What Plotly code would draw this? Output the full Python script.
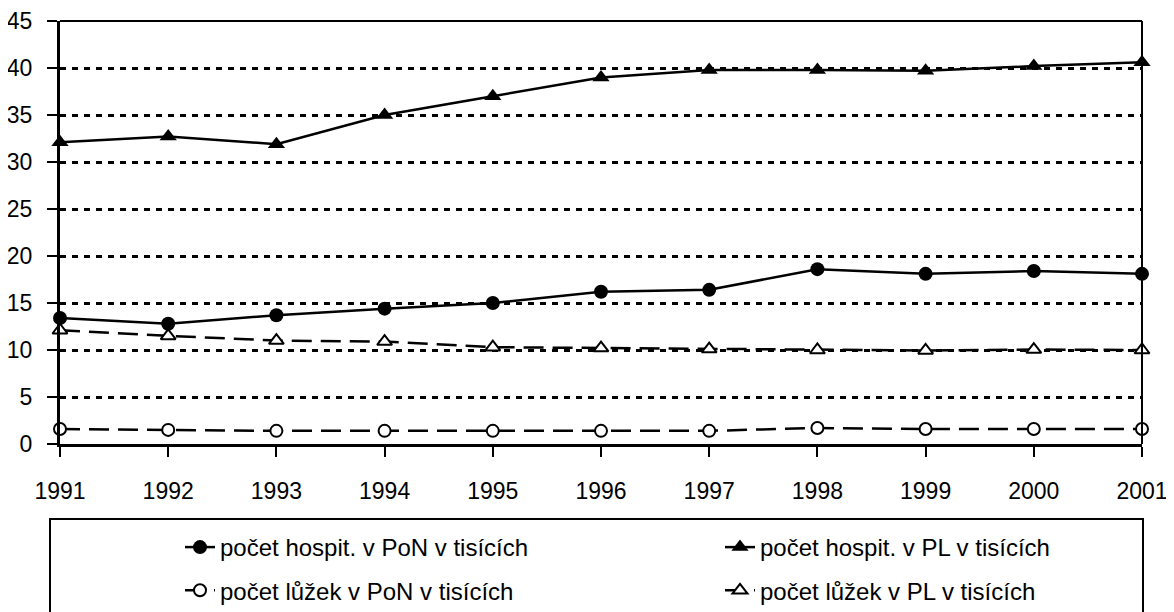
import plotly.graph_objects as go

years = [1991, 1992, 1993, 1994, 1995, 1996, 1997, 1998, 1999, 2000, 2001]
hosp_pon = [13.4, 12.8, 13.7, 14.4, 15.0, 16.2, 16.4, 18.6, 18.1, 18.4, 18.1]
hosp_pl = [32.1, 32.7, 31.9, 35.0, 37.0, 39.0, 39.8, 39.8, 39.7, 40.2, 40.6]
beds_pon = [1.6, 1.5, 1.4, 1.4, 1.4, 1.4, 1.4, 1.7, 1.6, 1.6, 1.6]
beds_pl = [12.1, 11.5, 11.0, 10.9, 10.3, 10.2, 10.1, 10.0, 9.95, 10.05, 10.0]
names = ["počet hospit. v PoN v tisících", "počet hospit. v PL v tisících",
         "počet lůžek v PoN v tisících", "počet lůžek v PL v tisících"]
y_ticks = [0, 5, 10, 15, 20, 25, 30, 35, 40, 45]

FONT = "Liberation Sans, Arial, sans-serif"
DASH = "20px,9px"

fig = go.Figure()
fig.add_trace(go.Scatter(x=years, y=hosp_pon, name=names[0], mode="lines+markers",
                         legendgroup="a", cliponaxis=False,
                         line=dict(color="black", width=2.5),
                         marker=dict(symbol="circle", size=14, color="black")))
fig.add_trace(go.Scatter(x=years, y=hosp_pl, name=names[1], mode="lines+markers",
                         legendgroup="b", cliponaxis=False,
                         line=dict(color="black", width=2.5),
                         marker=dict(symbol="triangle-up", size=15, color="black")))
fig.add_trace(go.Scatter(x=years, y=beds_pon, name=names[2], mode="lines+markers",
                         legendgroup="c", cliponaxis=False,
                         line=dict(color="black", width=2.5, dash=DASH),
                         marker=dict(symbol="circle", size=12, color="white",
                                     line=dict(color="black", width=2))))
fig.add_trace(go.Scatter(x=years, y=beds_pl, name=names[3], mode="lines+markers",
                         legendgroup="d", cliponaxis=False,
                         line=dict(color="black", width=2.5, dash=DASH),
                         marker=dict(symbol="triangle-up", size=13, color="white",
                                     line=dict(color="black", width=2))))

# legend frame and plot top/right border
fig.add_shape(type="rect", xref="paper", yref="paper",
              x0=(50 - 60) / 1082, x1=(1143 - 60) / 1082,
              y0=(444 - 640) / 423, y1=(444 - 519) / 423,
              line=dict(color="black", width=2), fillcolor="rgba(0,0,0,0)", layer="above")
fig.add_shape(type="line", xref="paper", yref="paper", x0=0, x1=1, y0=1, y1=1,
              line=dict(color="black", width=2))
fig.add_shape(type="line", xref="paper", yref="paper", x0=1, x1=1, y0=0, y1=1,
              line=dict(color="black", width=2))

# the page body adds an 8px offset, so the figure is 8px smaller and margins compensate
fig.update_layout(
    width=1166, height=604,
    margin=dict(l=52, r=32, t=13, b=168, autoexpand=False),
    paper_bgcolor="white", plot_bgcolor="white",
    font=dict(family=FONT, size=23, color="black"),
    showlegend=True,
    legend=dict(orientation="h", x=(180 - 60) / 1082, y=(444 - 525) / 423,
                xanchor="left", yanchor="top",
                entrywidth=495, entrywidthmode="pixels",
                bgcolor="rgba(0,0,0,0)", borderwidth=0,
                font=dict(family=FONT, size=24, color="black"),
                tracegroupgap=9, itemwidth=30),
    xaxis=dict(range=[1991, 2001], tickmode="array", tickvals=years,
               ticktext=[str(y) for y in years],
               showgrid=False, zeroline=False,
               showline=True, linecolor="black", linewidth=3,
               ticks="outside", ticklen=10, tickwidth=2, tickcolor="black",
               ticklabelstandoff=14),
    yaxis=dict(range=[0, 45], tickmode="array", tickvals=y_ticks,
               showgrid=True, gridcolor="black", gridwidth=2.5, griddash="6px,6px",
               zeroline=False,
               showline=True, linecolor="black", linewidth=3,
               ticks="outside", ticklen=10, tickwidth=2, tickcolor="black",
               ticklabelstandoff=10),
)

fig.write_html("out.html")
